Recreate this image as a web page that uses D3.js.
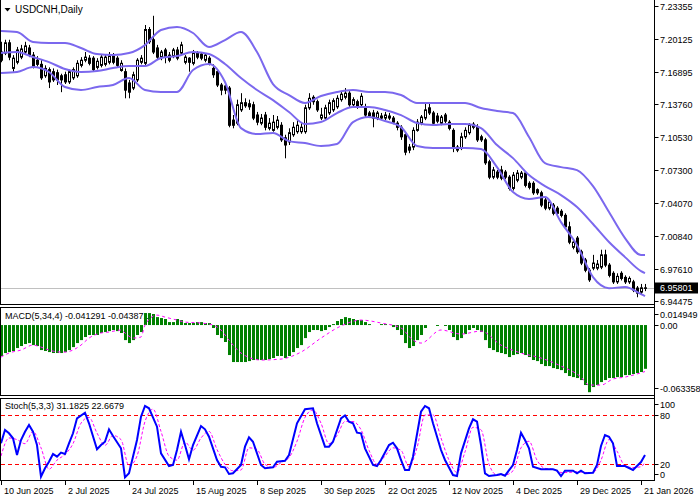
<!DOCTYPE html>
<html><head><meta charset="utf-8">
<script src="https://cdn.jsdelivr.net/npm/d3@7"></script>
<style>body{margin:0;background:#fff}svg{display:block}text{font-family:"Liberation Sans",Arial,sans-serif}</style>
</head><body><svg id="c" width="700" height="500"></svg>
<script>
// ---------- DATA ----------
const symbolTitle = "USDCNH,Daily";
const openP = [7.1883,7.1873,7.1973,7.1723,7.1783,7.1833,7.1883,7.1923,7.1853,7.1803,
7.1763,7.1651,7.1711,7.1691,7.1681,7.1651,7.1661,7.1591,7.1631,7.1651,
7.1753,7.1803,7.1823,7.1823,7.1733,7.1753,7.1763,7.1783,7.1843,7.1823,
7.1703,7.1691,7.1581,7.1531,7.1611,7.1783,7.1773,7.2103,7.2003,7.1923,
7.1833,7.1903,7.1853,7.1843,7.1903,7.1873,7.1783,7.1823,7.1773,7.1873,
7.1863,7.1803,7.1823,7.1723,7.1691,7.1561,7.1551,7.1531,7.1218,7.1188,
7.1318,7.1388,7.1378,7.1368,7.1268,7.1188,7.1268,7.1138,7.1118,7.1148,
7.1168,7.1045,7.1005,7.1075,7.1105,7.1105,7.1105,7.1338,7.1441,7.1398,
7.1238,7.1238,7.1288,7.1318,7.1348,7.1418,7.1441,7.1481,7.1368,7.1398,
7.1368,7.1348,7.1288,7.1288,7.1238,7.1238,7.1238,7.1258,7.1238,7.1188,
7.1148,7.1075,7.0955,7.0955,7.1118,7.1188,7.1238,7.1338,7.1288,7.1258,
7.1188,7.1268,7.1198,7.1118,7.0925,7.0945,7.1055,7.1095,7.1148,7.1148,
7.1055,7.1025,7.0811,7.0661,7.0711,7.0731,7.0711,7.0661,7.0551,7.0631,
7.0661,7.0701,7.0601,7.0601,7.0538,7.0508,7.0438,7.0358,7.0388,7.0358,
7.0328,7.0288,7.0176,6.9976,7.0066,6.9932,6.9852,6.9752,6.9772,6.9772,
6.9782,6.9902,6.9802,6.9722,6.9638,6.9722,6.9682,6.9638,6.9638,6.9578,
6.9538,6.9575];
const highP = [7.1983,7.2003,7.2003,7.1853,7.1933,7.1953,7.1983,7.1953,7.1883,7.1843,
7.1803,7.1753,7.1733,7.1723,7.1711,7.1671,7.1691,7.1711,7.1733,7.1803,
7.1833,7.1883,7.1853,7.1843,7.1823,7.1853,7.1863,7.1883,7.1873,7.1843,
7.1803,7.1723,7.1611,7.1691,7.1823,7.1853,7.2147,7.2127,7.2237,7.1953,
7.1903,7.1923,7.1883,7.1923,7.1933,7.1983,7.1853,7.1833,7.1903,7.1893,
7.1883,7.1873,7.1843,7.1763,7.1711,7.1581,7.1571,7.1551,7.1268,7.1418,
7.1481,7.1431,7.1418,7.1398,7.1298,7.1278,7.1298,7.1238,7.1268,7.1258,
7.1198,7.1075,7.1138,7.1198,7.1218,7.1188,7.1368,7.1481,7.1461,7.1418,
7.1338,7.1368,7.1418,7.1431,7.1461,7.1501,7.1531,7.1501,7.1441,7.1418,
7.1481,7.1378,7.1308,7.1318,7.1308,7.1288,7.1298,7.1288,7.1258,7.1208,
7.1168,7.1095,7.0985,7.1148,7.1228,7.1268,7.1388,7.1388,7.1308,7.1288,
7.1268,7.1288,7.1218,7.1138,7.0975,7.1095,7.1148,7.1188,7.1198,7.1178,
7.1075,7.1045,7.0831,7.0761,7.0731,7.0771,7.0731,7.0681,7.0711,7.0731,
7.0721,7.0721,7.0621,7.0621,7.0551,7.0528,7.0458,7.0438,7.0408,7.0378,
7.0348,7.0308,7.0226,7.0046,7.0086,6.9952,6.9872,6.9772,6.9902,6.9852,
6.9952,6.9952,6.9822,6.9742,6.9722,6.9742,6.9702,6.9692,6.9658,6.9598,
6.9618,6.9618];
const lowP = [7.1783,7.1853,7.1803,7.1691,7.1763,7.1813,7.1863,7.1833,7.1723,7.1743,
7.1611,7.1631,7.1531,7.1591,7.1561,7.1491,7.1571,7.1571,7.1611,7.1631,
7.1733,7.1783,7.1753,7.1691,7.1713,7.1733,7.1743,7.1763,7.1763,7.1733,
7.1691,7.1431,7.1431,7.1511,7.1591,7.1763,7.1753,7.1963,7.1863,7.1813,
7.1803,7.1773,7.1783,7.1823,7.1803,7.1853,7.1763,7.1691,7.1753,7.1813,
7.1803,7.1783,7.1753,7.1631,7.1541,7.1461,7.1471,7.1148,7.1138,7.1168,
7.1298,7.1338,7.1318,7.1218,7.1168,7.1168,7.1118,7.1118,7.1105,7.1128,
7.1005,7.0845,7.0975,7.1055,7.1085,7.1085,7.1085,7.1318,7.1368,7.1298,
7.1218,7.1218,7.1268,7.1298,7.1328,7.1398,7.1421,7.1348,7.1348,7.1328,
7.1348,7.1248,7.1238,7.1148,7.1218,7.1218,7.1218,7.1218,7.1178,7.1118,
7.1025,7.0875,7.0895,7.0925,7.1105,7.1168,7.1218,7.1268,7.1168,7.1188,
7.1168,7.1188,7.1118,7.0905,7.0905,7.0925,7.1035,7.1075,7.1128,7.1005,
7.1005,7.0781,7.0641,7.0641,7.0641,7.0631,7.0641,7.0531,7.0531,7.0611,
7.0641,7.0561,7.0541,7.0488,7.0488,7.0368,7.0338,7.0338,7.0288,7.0288,
7.0268,7.0156,7.0006,6.9956,6.9912,6.9802,6.9732,6.9638,6.9752,6.9752,
6.9762,6.9782,6.9682,6.9618,6.9618,6.9652,6.9618,6.9618,6.9538,6.9488,
6.9518,6.9548];
const closeP = [7.1803,7.1973,7.1833,7.1823,7.1903,7.1913,7.1943,7.1853,7.1743,7.1763,
7.1631,7.1723,7.1591,7.1611,7.1611,7.1611,7.1591,7.1691,7.1711,7.1773,
7.1803,7.1833,7.1773,7.1711,7.1793,7.1833,7.1833,7.1843,7.1783,7.1753,
7.1773,7.1511,7.1491,7.1661,7.1803,7.1823,7.2103,7.1983,7.1883,7.1833,
7.1883,7.1833,7.1803,7.1903,7.1823,7.1953,7.1833,7.1783,7.1873,7.1833,
7.1823,7.1853,7.1773,7.1661,7.1561,7.1511,7.1511,7.1168,7.1168,7.1368,
7.1388,7.1358,7.1348,7.1238,7.1198,7.1238,7.1148,7.1188,7.1198,7.1218,
7.1025,7.0975,7.1095,7.1148,7.1168,7.1148,7.1338,7.1431,7.1398,7.1318,
7.1268,7.1338,7.1388,7.1408,7.1431,7.1471,7.1481,7.1368,7.1418,7.1348,
7.1451,7.1268,7.1258,7.1238,7.1288,7.1258,7.1268,7.1238,7.1198,7.1148,
7.1055,7.0905,7.0925,7.1118,7.1198,7.1248,7.1318,7.1288,7.1188,7.1208,
7.1248,7.1208,7.1138,7.0945,7.0955,7.1055,7.1118,7.1168,7.1178,7.1025,
7.1025,7.0801,7.0661,7.0731,7.0661,7.0651,7.0661,7.0551,7.0681,7.0701,
7.0701,7.0581,7.0561,7.0508,7.0508,7.0388,7.0358,7.0418,7.0308,7.0308,
7.0288,7.0176,7.0026,7.0026,6.9932,6.9822,6.9752,6.9658,6.9822,6.9812,
6.9902,6.9802,6.9702,6.9638,6.9692,6.9672,6.9638,6.9672,6.9558,6.9528,
6.9580,6.95801];

// Bollinger bands, read at sampled bars
const bbIdx = [0,4,8,12,16,20,24,28,32,36,40,44,48,52,56,60,64,68,72,76,80,84,88,92,96,100,104,108,112,116,120,124,128,132,136,140,144,148,152,156,160,161];
const bbUpper = [7.2088,7.2078,7.1981,7.1971,7.1971,7.1922,7.1863,7.1854,7.1873,7.1951,
7.2098,7.2127,7.2069,7.1932,7.2000,7.2078,7.1883,7.1570,7.1463,7.1385,
7.1453,7.1492,7.1512,7.1492,7.1492,7.1463,7.1385,7.1385,7.1385,7.1385,
7.1336,7.1307,7.1287,7.1053,7.0798,7.0759,7.0730,7.0574,7.0320,7.0066,
6.9900,6.9900];
const bbMiddle = [7.1873,7.1883,7.1834,7.1785,7.1717,7.1688,7.1697,7.1727,7.1746,7.1746,
7.1824,7.1844,7.1883,7.1863,7.1766,7.1629,7.1512,7.1414,7.1297,7.1180,
7.1199,7.1287,7.1346,7.1346,7.1316,7.1267,7.1189,7.1170,7.1180,7.1180,
7.1140,7.0974,7.0847,7.0681,7.0574,7.0486,7.0369,7.0203,7.0027,6.9880,
6.9743,6.9724];
const bbLower = [7.1678,7.1688,7.1736,7.1688,7.1541,7.1512,7.1541,7.1561,7.1629,7.1512,
7.1492,7.1492,7.1707,7.1766,7.1590,7.1140,7.1082,7.1092,7.1013,7.0994,
7.0965,7.0984,7.1199,7.1248,7.1209,7.1150,7.0965,7.0945,7.0945,7.0945,
7.0935,7.0759,7.0515,7.0447,7.0466,7.0222,6.9997,6.9685,6.9577,6.9587,
6.9519,6.9499];

const priceTicks = [7.23355,7.20125,7.16895,7.13760,7.10530,7.07300,7.04070,7.00840,6.97610,6.94475];
const lastPrice = 6.95801;

// MACD(5,34,4)
const macdHist = [-0.0292,-0.0264,-0.0255,-0.0245,-0.0217,-0.0198,-0.0179,-0.0170,-0.0189,-0.0198,
-0.0236,-0.0245,-0.0255,-0.0264,-0.0264,-0.0264,-0.0255,-0.0236,-0.0208,-0.0170,
-0.0142,-0.0113,-0.0094,-0.0094,-0.0094,-0.0075,-0.0066,-0.0057,-0.0047,-0.0057,
-0.0075,-0.0142,-0.0170,-0.0142,-0.0094,-0.0066,0.0113,0.0113,0.0104,0.0075,
0.0066,0.0057,0.0028,0.0028,0.0057,0.0047,0.0019,0.0019,0.0019,0.0028,
0.0028,0.0019,0.0019,-0.0028,-0.0094,-0.0123,-0.0160,-0.0283,-0.0349,-0.0349,
-0.0349,-0.0349,-0.0340,-0.0330,-0.0330,-0.0330,-0.0330,-0.0321,-0.0311,-0.0292,
-0.0292,-0.0311,-0.0292,-0.0255,-0.0217,-0.0189,-0.0123,-0.0066,-0.0047,-0.0047,
-0.0057,-0.0047,-0.0019,0.0009,0.0038,0.0057,0.0075,0.0066,0.0057,0.0047,
0.0047,0.0028,0.0009,0.0000,0.0000,0.0009,0.0009,0.0000,-0.0019,-0.0047,
-0.0094,-0.0170,-0.0217,-0.0198,-0.0142,-0.0094,-0.0028,0.0000,0.0000,-0.0009,
0.0000,-0.0009,-0.0047,-0.0113,-0.0142,-0.0123,-0.0085,-0.0047,-0.0028,-0.0047,
-0.0066,-0.0142,-0.0217,-0.0236,-0.0255,-0.0264,-0.0274,-0.0302,-0.0283,-0.0274,
-0.0264,-0.0283,-0.0302,-0.0330,-0.0340,-0.0368,-0.0387,-0.0387,-0.0406,-0.0415,
-0.0425,-0.0453,-0.0481,-0.0491,-0.0500,-0.0519,-0.0566,-0.063358,-0.0585,-0.0566,
-0.0538,-0.0519,-0.0500,-0.0500,-0.0491,-0.0491,-0.0472,-0.0472,-0.0462,-0.0453,
-0.0443,-0.041291];
const macdSigIdx = [0,2,5,8,10,12,15,16,18,20,22,25,27,30,31,33,35,36,39,41,44,46,50,53,55,57,60,65,70,75,80,85,90,95,100,103,105,110,115,120,125,130,135,140,145,147,150,153,156,161];
const macdSignal = [-0.0302,-0.0264,-0.0236,-0.0189,-0.0208,-0.0236,-0.0255,-0.0255,-0.0236,-0.0189,
-0.0123,-0.0075,-0.0066,-0.0047,-0.0075,-0.0123,-0.0113,0.0000,0.0094,0.0075,
0.0047,0.0028,0.0019,0.0000,-0.0047,-0.0142,-0.0264,-0.0330,-0.0321,-0.0255,
-0.0123,-0.0009,0.0047,0.0019,-0.0028,-0.0142,-0.0170,-0.0047,-0.0085,-0.0057,
-0.0189,-0.0264,-0.0311,-0.0387,-0.0491,-0.0566,-0.0566,-0.0509,-0.0491,-0.043871];
const macdTicks = ["0.014949","0.00","-0.063358"];
const macdTickVals = [0.014949,0,-0.063358];

// Stochastic(5,3,3)
const stochIdx = [0,1,2,3,4,5,6,7,8,9,10,11,12,13,14,15,16,17,18,19,21,22,24,25,26,27,28,30,31,32,34,35,36,37,39,40,42,43,44,45,46,47,48,50,51,52,54,55,56,57,58,60,61,62,63,65,66,68,69,71,72,74,76,78,79,81,82,83,85,86,87,88,89,90,91,93,94,95,97,98,99,100,101,102,103,105,106,107,108,110,111,113,114,115,117,118,119,120,121,122,124,125,126,128,129,130,131,132,133,135,136,138,139,140,141,143,144,145,146,148,149,150,151,152,153,154,155,156,158,159,160,161];
const stochMain = [45.5,61.7,57.7,51.6,31.3,49.5,59.6,67.8,59.6,43.4,4.9,15.1,23.1,32.5,29.2,34.1,32.5,45.5,57.7,75.9,82.7,69.8,38.2,43.4,47.4,62.5,54.4,39.4,4.1,9.0,49.5,77.9,90.9,88.1,65.7,33.3,17.9,19.1,37.3,59.6,43.4,26.0,43.4,66.5,62.5,53.5,25.2,17.0,16.3,8.2,9.0,19.1,41.4,52.8,47.4,19.1,15.1,16.3,23.1,24.3,31.3,69.8,86.9,88.1,69.8,41.4,41.4,47.4,75.9,79.3,71.8,69.8,58.4,57.7,39.4,19.1,17.9,25.2,43.4,46.2,39.4,25.2,13.0,13.0,29.2,83.9,90.9,88.1,69.8,37.3,25.2,6.9,5.7,33.3,63.7,74.7,71.8,43.4,9.0,5.7,6.9,8.2,6.1,19.1,37.3,58.4,49.5,39.4,17.0,13.9,13.9,13.9,12.2,5.7,12.2,12.2,9.0,12.2,9.0,9.7,19.1,42.2,55.6,53.5,45.5,17.9,17.9,17.9,13.0,17.9,22.7,31.1825];
const stochSigIdx = [0,2,4,6,8,10,12,14,16,18,20,22,24,26,28,30,32,34,36,38,40,42,44,46,48,50,52,54,56,58,60,62,64,66,68,70,72,74,76,78,80,82,84,86,88,90,92,94,96,98,100,102,104,106,108,110,112,114,116,118,120,122,124,126,128,130,132,134,136,138,140,142,144,146,148,150,152,154,156,158,160,161];
const stochSignal = [30,52,50,45,60,40,14,25,32,45,70,77,58,43,55,50,18,30,72,87,60,30,25,47,37,52,60,38,20,12,13,40,38,20,16,22,28,48,77,86,70,45,55,72,72,62,37,20,30,40,37,17,40,80,80,52,25,10,35,65,62,20,7,7,12,40,48,25,15,14,10,10,11,10,10,25,50,36,18,16,17,22.6679];
const stochLevels = [20,80];
const stochTicks = [100,80,20,0];

const dateLabels = ["10 Jun 2025","2 Jul 2025","24 Jul 2025","15 Aug 2025","8 Sep 2025","30 Sep 2025","22 Oct 2025","12 Nov 2025","4 Dec 2025","29 Dec 2025","21 Jan 2026"];
const dateIdx = [0,16,32,48,64,80,96,112,128,144,160];

// ---------- DRAW ----------
const svg = d3.select('#c');
const x = d3.scaleLinear().domain([0,161]).range([1,645]);
const yP = d3.scaleLinear().domain([6.94475,7.23355]).range([301.4,5.7]);
const yM = d3.scaleLinear().domain([-0.063358,0.014949]).range([392.2,309.2]);
const yS = d3.scaleLinear().domain([0,100]).range([480.7,398.5]);
const AX = 654.5;
const bandColor = '#7b68ee';

// panel frames
const frames = [[-2,304.5],[307.5,395.5],[398.5,480.5]];
frames.forEach(([t,b])=>{
  svg.append('rect').attr('x',0.5).attr('y',t).attr('width',AX-0.5).attr('height',b-t)
    .attr('fill','none').attr('stroke','#000').attr('stroke-width',1);
});

// main panel
svg.append('clipPath').attr('id','cm').append('rect').attr('x',1).attr('y',0).attr('width',AX-1).attr('height',304);
const gm = svg.append('g').attr('clip-path','url(#cm)');
gm.append('line').attr('x1',1).attr('x2',AX).attr('y1',Math.round(yP(lastPrice))+0.5).attr('y2',Math.round(yP(lastPrice))+0.5)
  .attr('stroke','#c0c0c0').attr('stroke-width',1);

const idx = d3.range(openP.length);
gm.selectAll('line.w').data(idx).join('line').attr('class','w')
  .attr('x1',i=>Math.round(x(i))+0.5).attr('x2',i=>Math.round(x(i))+0.5)
  .attr('y1',i=>yP(highP[i])).attr('y2',i=>yP(lowP[i]))
  .attr('stroke','#000').attr('stroke-width',1);
gm.selectAll('rect.b').data(idx).join('rect').attr('class','b')
  .attr('x',i=>Math.round(x(i))-0.5).attr('width',2)
  .attr('y',i=>Math.min(yP(openP[i]),yP(closeP[i])))
  .attr('height',i=>Math.max(0.6,Math.abs(yP(openP[i])-yP(closeP[i]))))
  .attr('fill',i=>closeP[i]>=openP[i]?'#fff':'#000')
  .attr('stroke','#000').attr('stroke-width',1);

const bbLine = arr => d3.line().x((d,k)=>x(bbIdx[k])).y(d=>yP(d)).curve(d3.curveMonotoneX)(arr);
[bbUpper,bbMiddle,bbLower].forEach(arr=>{
  gm.append('path').attr('d',bbLine(arr)).attr('fill','none').attr('stroke',bandColor).attr('stroke-width',2);
});

svg.append('path').attr('d','M4.5,8 L10.5,8 L7.5,11.5 Z').attr('fill','#000');
svg.append('text').attr('x',15).attr('y',12.5).attr('font-size',10).attr('fill','#000').text(symbolTitle);

// right price axis
svg.append('line').attr('x1',AX).attr('x2',AX).attr('y1',0).attr('y2',481).attr('stroke','#000');
priceTicks.forEach(p=>{
  const yy = Math.round(yP(p))+0.5;
  svg.append('line').attr('x1',AX).attr('x2',AX+4).attr('y1',yy).attr('y2',yy).attr('stroke','#000');
  svg.append('text').attr('x',660).attr('y',yy).attr('dy','0.35em').attr('font-size',9).attr('fill','#000')
    .text(p.toFixed(5));
});
const ly = Math.round(yP(lastPrice));
svg.append('rect').attr('x',655).attr('y',ly-5.5).attr('width',43).attr('height',11).attr('fill','#000');
svg.append('text').attr('x',660).attr('y',ly).attr('dy','0.35em').attr('font-size',9).attr('fill','#fff').text(lastPrice.toFixed(5));

// MACD panel (title first so bars overlap it)
svg.append('text').attr('x',5).attr('y',319).attr('font-size',9).attr('fill','#000')
  .text('MACD(5,34,4) -0.041291 -0.043871');
svg.append('clipPath').attr('id','cmacd').append('rect').attr('x',1).attr('y',308).attr('width',AX-1).attr('height',87);
const gmc = svg.append('g').attr('clip-path','url(#cmacd)');
gmc.selectAll('rect.h').data(idx).join('rect').attr('class','h')
  .attr('x',i=>Math.round(x(i))-1).attr('width',3)
  .attr('y',i=>Math.min(yM(0),yM(macdHist[i])))
  .attr('height',i=>Math.abs(yM(macdHist[i])-yM(0)))
  .attr('fill','#008000');
gmc.append('path').attr('d',d3.line().x((d,k)=>x(macdSigIdx[k])).y(d=>yM(d)).curve(d3.curveMonotoneX)(macdSignal))
  .attr('fill','none').attr('stroke','#ff00ff').attr('stroke-width',1).attr('stroke-dasharray','3,3');
macdTickVals.forEach((v,k)=>{
  const yy = k===0 ? 314 : (k===2 ? 388 : Math.round(yM(v)));
  svg.append('line').attr('x1',AX).attr('x2',AX+4).attr('y1',yy+0.5).attr('y2',yy+0.5).attr('stroke','#000');
  svg.append('text').attr('x',660).attr('y',yy+0.5).attr('dy','0.35em').attr('font-size',9).attr('fill','#000').text(macdTicks[k]);
});

// Stochastic panel
svg.append('clipPath').attr('id','cst').append('rect').attr('x',1).attr('y',399).attr('width',AX-1).attr('height',81);
const gs = svg.append('g').attr('clip-path','url(#cst)');
stochLevels.forEach(v=>{
  gs.append('line').attr('x1',1).attr('x2',AX).attr('y1',Math.round(yS(v))+0.5).attr('y2',Math.round(yS(v))+0.5)
    .attr('stroke','#ff0000').attr('stroke-width',1).attr('stroke-dasharray','4,3');
});
gs.append('path').attr('d',d3.line().x((d,k)=>x(stochSigIdx[k])).y(d=>yS(d)).curve(d3.curveMonotoneX)(stochSignal))
  .attr('fill','none').attr('stroke','#ff00ff').attr('stroke-width',1).attr('stroke-dasharray','3,2');
gs.append('path').attr('d',d3.line().x((d,k)=>x(stochIdx[k])).y(d=>yS(d))(stochMain))
  .attr('fill','none').attr('stroke','#0000ff').attr('stroke-width',2);
svg.append('text').attr('x',5).attr('y',409).attr('font-size',9).attr('fill','#000')
  .text('Stoch(5,3,3) 31.1825 22.6679');
stochTicks.forEach(v=>{
  const yy = v===100 ? 404 : (v===0 ? 474 : Math.round(yS(v)));
  svg.append('line').attr('x1',AX).attr('x2',AX+4).attr('y1',yy+0.5).attr('y2',yy+0.5).attr('stroke','#000');
  svg.append('text').attr('x',660).attr('y',yy+0.5).attr('dy','0.35em').attr('font-size',9).attr('fill','#000').text(v);
});

// x axis
dateIdx.forEach((d,k)=>{
  const xx = Math.round(x(d))+0.5;
  svg.append('line').attr('x1',xx).attr('x2',xx).attr('y1',481).attr('y2',485).attr('stroke','#000');
  svg.append('text').attr('x',xx+2.5).attr('y',493.5).attr('font-size',9).attr('fill','#000').text(dateLabels[k]);
});
</script></body></html>
